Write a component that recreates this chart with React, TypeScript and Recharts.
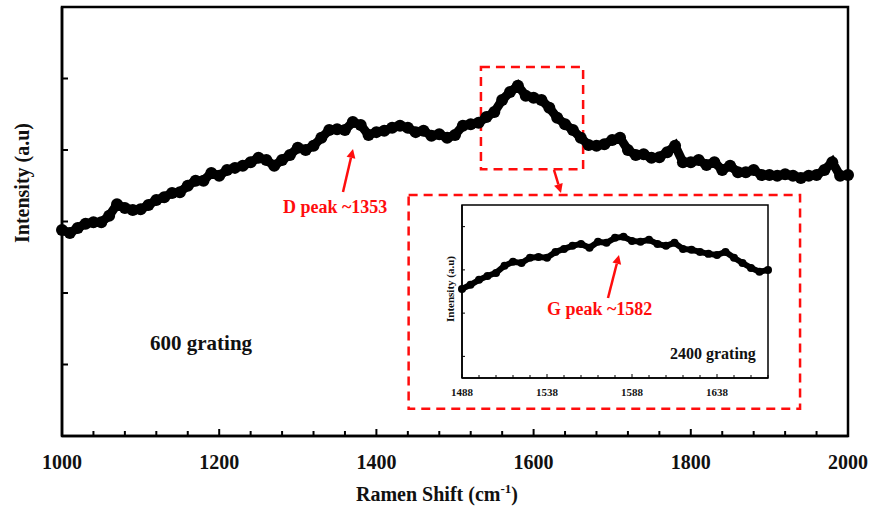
import { LineChart, Line, XAxis, YAxis, ReferenceArea } from 'recharts';

// main spectrum (600 grating), Raman shift in cm-1
const mainShift = [
  1000, 1010, 1020, 1030, 1040, 1050, 1060, 1070, 1080, 1090,
  1100, 1110, 1120, 1130, 1140, 1150, 1160, 1170, 1180, 1190,
  1200, 1210, 1220, 1230, 1240, 1250, 1260, 1270, 1280, 1290,
  1300, 1310, 1320, 1330, 1340, 1350, 1360, 1370, 1380, 1390,
  1400, 1410, 1420, 1430, 1440, 1450, 1460, 1470, 1480, 1490,
  1500, 1510, 1520, 1530, 1540, 1550, 1560, 1570, 1580, 1590,
  1600, 1610, 1620, 1630, 1640, 1650, 1660, 1670, 1680, 1690,
  1700, 1710, 1720, 1730, 1740, 1750, 1760, 1770, 1780, 1790,
  1800, 1810, 1820, 1830, 1840, 1850, 1860, 1870, 1880, 1890,
  1900, 1910, 1920, 1930, 1940, 1950, 1960, 1970, 1980, 1990,
  2000,
];
const mainIntensity = [
  2.88, 2.84, 2.91, 2.97, 2.99, 2.99, 3.08, 3.24, 3.19, 3.16,
  3.17, 3.23, 3.30, 3.34, 3.40, 3.41, 3.50, 3.57, 3.57, 3.68,
  3.64, 3.72, 3.75, 3.78, 3.83, 3.89, 3.86, 3.78, 3.86, 3.93,
  4.03, 4.00, 4.06, 4.17, 4.28, 4.29, 4.28, 4.39, 4.35, 4.21,
  4.25, 4.27, 4.31, 4.34, 4.31, 4.25, 4.27, 4.20, 4.22, 4.17,
  4.21, 4.34, 4.36, 4.38, 4.46, 4.53, 4.70, 4.81, 4.90, 4.76,
  4.73, 4.70, 4.59, 4.45, 4.36, 4.28, 4.17, 4.07, 4.06, 4.08,
  4.14, 4.17, 4.00, 3.93, 3.94, 3.89, 3.90, 3.97, 4.06, 3.83,
  3.83, 3.86, 3.79, 3.83, 3.72, 3.78, 3.69, 3.69, 3.72, 3.65,
  3.65, 3.64, 3.66, 3.64, 3.61, 3.64, 3.65, 3.72, 3.83, 3.64,
  3.65,
];
const mainXTicks = [
  1000, 1040, 1080, 1120, 1160, 1200, 1240, 1280, 1320, 1360, 1400, 1440, 1480,
  1520, 1560, 1600, 1640, 1680, 1720, 1760, 1800, 1840, 1880, 1920, 1960, 2000,
];
const mainYTicks = [1, 2, 3, 4, 5];

// inset spectrum (2400 grating)
const insetShift = [
  1488, 1493, 1498, 1503, 1508, 1513, 1518, 1523, 1528, 1533,
  1538, 1543, 1548, 1553, 1558, 1563, 1568, 1573, 1578, 1583,
  1588, 1593, 1598, 1603, 1608, 1613, 1618, 1623, 1628, 1633,
  1638, 1643, 1648, 1653, 1658, 1663, 1668,
];
const insetIntensity = [
  4.12, 4.31, 4.54, 4.72, 4.86, 5.19, 5.37, 5.32, 5.56, 5.60,
  5.56, 5.83, 5.97, 6.11, 6.20, 6.02, 6.30, 6.25, 6.48, 6.53,
  6.34, 6.30, 6.39, 6.20, 6.11, 6.25, 5.97, 5.93, 5.83, 5.74,
  5.69, 5.83, 5.56, 5.32, 5.09, 4.91, 5.00,
];
const insetXTicks = [
  1488, 1498, 1508, 1518, 1528, 1538, 1548, 1558, 1568, 1578,
  1588, 1598, 1608, 1618, 1628, 1638, 1648, 1658, 1668,
];
const insetYTicks = [1, 2, 3, 4, 5, 6, 7];

const mainData = mainShift.map((x, i) => ({ x, y: mainIntensity[i] }));
const insetData = insetShift.map((x, i) => ({ x, y: insetIntensity[i] }));

const FONT = 'Liberation Serif, Times New Roman, Times, serif';
const RED = '#ff0d0d';

const MainXTick = (props: any) => {
  const { x, y, payload } = props;
  const major = payload.value % 200 === 0;
  return (
    <g>
      <line x1={x} x2={x} y1={y} y2={y - (major ? 7 : 5)} stroke="#000" strokeWidth={2} />
      {major && (
        <text x={x} y={y + 33} textAnchor="middle" style={{ fontFamily: FONT }} fontWeight="bold" fontSize={20} fill="#111">
          {payload.value}
        </text>
      )}
    </g>
  );
};

const MainYTick = (props: any) => {
  const { x, y } = props;
  return <line x1={x} x2={x + 6} y1={y} y2={y} stroke="#000" strokeWidth={2} />;
};

const InsetXTick = (props: any) => {
  const { x, y, payload } = props;
  const major = (payload.value - 1488) % 50 === 0;
  return (
    <g>
      <line x1={x} x2={x} y1={y} y2={y - (major ? 4 : 3)} stroke="#000" strokeWidth={1} />
      {major && (
        <text x={x} y={y + 18} textAnchor="middle" style={{ fontFamily: FONT }} fontWeight="bold" fontSize={11} fill="#111">
          {payload.value}
        </text>
      )}
    </g>
  );
};

const InsetYTick = (props: any) => {
  const { x, y } = props;
  return <line x1={x} x2={x + 3} y1={y} y2={y} stroke="#000" strokeWidth={1} />;
};

const Arrow = ({ x1, y1, x2, y2 }: { x1: number; y1: number; x2: number; y2: number }) => {
  const a = Math.atan2(y2 - y1, x2 - x1);
  const len = 9;
  const w = 4.5;
  const bx = x2 - len * Math.cos(a);
  const by = y2 - len * Math.sin(a);
  const px = -Math.sin(a) * w;
  const py = Math.cos(a) * w;
  return (
    <g>
      <line x1={x1} y1={y1} x2={bx} y2={by} stroke={RED} strokeWidth={2.5} />
      <polygon points={`${x2},${y2} ${bx + px},${by + py} ${bx - px},${by - py}`} fill={RED} />
    </g>
  );
};

export default function App() {
  return (
    <div style={{ position: 'absolute', left: 0, top: 0, width: 872, height: 509, background: '#fff', fontFamily: FONT }}>
      <LineChart width={872} height={509} data={mainData} margin={{ top: 7, right: 24, bottom: 0, left: 0 }}>
        <XAxis
          dataKey="x"
          type="number"
          domain={[1000, 2000]}
          ticks={mainXTicks}
          interval={0}
          height={73}
          tickSize={0}
          tickMargin={0}
          tick={<MainXTick />}
          axisLine={{ stroke: '#000', strokeWidth: 2.5 }}
        />
        <YAxis
          type="number"
          domain={[0, 6]}
          ticks={mainYTicks}
          width={62}
          tickSize={0}
          tickMargin={0}
          tick={<MainYTick />}
          axisLine={{ stroke: '#000', strokeWidth: 2.5 }}
        />
        <ReferenceArea x1={1000} x2={2000} y1={0} y2={6} fill="none" stroke="#000" strokeWidth={2.5} />
        <ReferenceArea x1={1533} x2={1663} y1={3.73} y2={5.16} fill="none" stroke={RED} strokeWidth={2.5} strokeDasharray="9 6" />
        <ReferenceArea x1={1441} x2={1939} y1={0.38} y2={3.37} fill="none" stroke={RED} strokeWidth={2.5} strokeDasharray="9 6" />
        <Line
          dataKey="y"
          type="linear"
          stroke="#000"
          strokeWidth={9}
          dot={{ r: 6, fill: '#000', stroke: 'none' }}
          isAnimationActive={false}
        />
      </LineChart>

      <div style={{ position: 'absolute', left: 400, top: 195 }}>
        <LineChart width={400} height={215} data={insetData} margin={{ top: 10, right: 32, bottom: 0, left: 0 }}>
          <XAxis
            dataKey="x"
            type="number"
            domain={[1488, 1668]}
            ticks={insetXTicks}
            interval={0}
            height={32}
            tickSize={0}
            tickMargin={0}
            tick={<InsetXTick />}
            axisLine={{ stroke: '#000', strokeWidth: 1.5 }}
          />
          <YAxis
            type="number"
            domain={[0, 8]}
            ticks={insetYTicks}
            width={62}
            tickSize={0}
            tickMargin={0}
            tick={<InsetYTick />}
            axisLine={{ stroke: '#000', strokeWidth: 1.5 }}
          />
          <ReferenceArea x1={1488} x2={1668} y1={0} y2={8} fill="none" stroke="#000" strokeWidth={1.5} />
          <Line
            dataKey="y"
            type="linear"
            stroke="#000"
            strokeWidth={6}
            dot={{ r: 4, fill: '#000', stroke: 'none' }}
            isAnimationActive={false}
          />
        </LineChart>
      </div>

      <svg width={872} height={509} style={{ position: 'absolute', left: 0, top: 0, pointerEvents: 'none', fontFamily: FONT }}>
        <text transform="translate(29,183) rotate(-90)" textAnchor="middle" fontWeight="bold" fontSize={20} fill="#111">
          Intensity (a.u)
        </text>
        <text x={437} y={501} textAnchor="middle" fontWeight="bold" fontSize={20} fill="#111">
          Ramen Shift (cm<tspan dy={-8} fontSize={13}>-1</tspan><tspan dy={8}>)</tspan>
        </text>
        <text x={150} y={350} fontWeight="bold" fontSize={21} fill="#111">600 grating</text>
        <text x={283} y={213} fontWeight="bold" fontSize={18} fill={RED}>D peak ~1353</text>
        <text x={547} y={315} fontWeight="bold" fontSize={18} fill={RED}>G peak ~1582</text>
        <text x={670} y={359} fontWeight="bold" fontSize={16} fill="#111">2400 grating</text>
        <text transform="translate(454,289) rotate(-90)" textAnchor="middle" fontWeight="bold" fontSize={11} fill="#111">
          Intensity (a.u)
        </text>
        <Arrow x1={343} y1={192} x2={353} y2={149} />
        <Arrow x1={554} y1={170} x2={561} y2={193} />
        <Arrow x1={608} y1={298} x2={619} y2={255} />
      </svg>
    </div>
  );
}
